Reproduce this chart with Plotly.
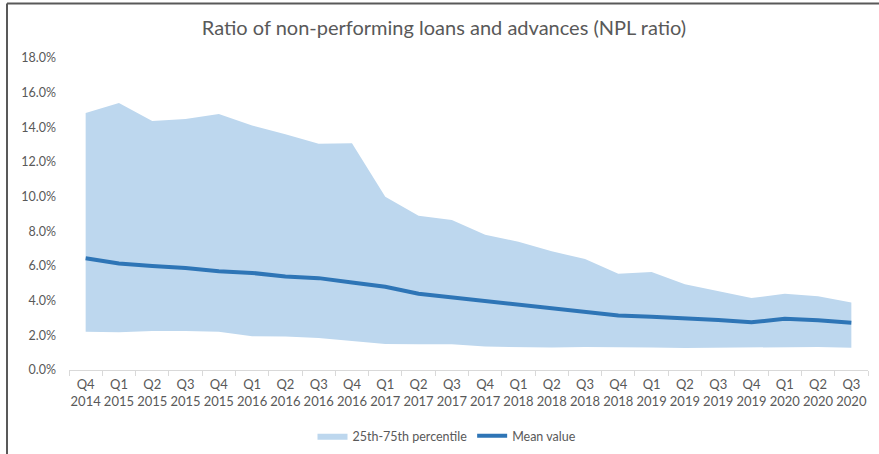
import plotly.graph_objects as go

quarters = ["Q4<br>2014", "Q1<br>2015", "Q2<br>2015", "Q3<br>2015", "Q4<br>2015",
            "Q1<br>2016", "Q2<br>2016", "Q3<br>2016", "Q4<br>2016",
            "Q1<br>2017", "Q2<br>2017", "Q3<br>2017", "Q4<br>2017",
            "Q1<br>2018", "Q2<br>2018", "Q3<br>2018", "Q4<br>2018",
            "Q1<br>2019", "Q2<br>2019", "Q3<br>2019", "Q4<br>2019",
            "Q1<br>2020", "Q2<br>2020", "Q3<br>2020"]

p75 = [14.83, 15.4, 14.37, 14.48, 14.77, 14.1, 13.6, 13.05, 13.08, 10.0, 8.9, 8.65,
       7.8, 7.4, 6.85, 6.4, 5.55, 5.65, 4.95, 4.55, 4.15, 4.4, 4.25, 3.9]
p25 = [2.2, 2.18, 2.25, 2.25, 2.2, 1.95, 1.93, 1.85, 1.68, 1.5, 1.48, 1.48,
       1.35, 1.32, 1.3, 1.32, 1.32, 1.3, 1.27, 1.28, 1.3, 1.33, 1.33, 1.28]
mean = [6.45, 6.15, 6.0, 5.88, 5.7, 5.6, 5.4, 5.3, 5.05, 4.8, 4.4, 4.2,
        4.0, 3.8, 3.55, 3.38, 3.15, 3.07, 3.0, 2.88, 2.75, 2.95, 2.87, 2.73]

W, H = 879, 454
L, R, T, B = 69, 11, 58, 84
pw, ph = W - L - R, H - T - B

def px(x):
    return (x - L) / pw

def py(y):
    return (H - B - y) / ph

fig = go.Figure()
fig.add_trace(go.Scatter(x=quarters, y=p25, mode="lines", line=dict(width=0, color="#BDD7EE"),
                         showlegend=False, hoverinfo="skip"))
fig.add_trace(go.Scatter(x=quarters, y=p75, mode="lines", line=dict(width=0, color="#BDD7EE"),
                         fill="tonexty", fillcolor="#BDD7EE", name="25th-75th percentile"))
fig.add_trace(go.Scatter(x=quarters, y=mean, mode="lines", line=dict(width=4, color="#2E75B6"),
                         name="Mean value"))

font = "Lato"
fig.update_layout(
    width=W, height=H,
    margin=dict(l=L, r=R, t=T, b=B, autoexpand=False),
    paper_bgcolor="white", plot_bgcolor="white",
    font=dict(family=font, color="#595959", size=12.5),
    title=dict(text="Ratio of non-performing loans and advances (NPL ratio)",
               x=px(444), xref="paper", xanchor="center",
               y=1 - 28 / H, yanchor="middle",
               font=dict(size=20, color="#595959", family=font)),
    legend=dict(orientation="h", x=px(447), xanchor="center", y=py(436), yanchor="middle",
                font=dict(size=12.5, color="#595959"), itemwidth=30, traceorder="normal"),
    xaxis=dict(type="category", range=[-0.5, 23.5], showgrid=False,
               showline=True, linecolor="#d9d9d9", linewidth=1,
               ticks="outside", tickson="boundaries", ticklen=5, tickcolor="#d9d9d9",
               tickangle=0, automargin=False, ticklabelstandoff=2,
               tickfont=dict(size=13, color="#595959"), fixedrange=True),
    yaxis=dict(range=[0, 18], dtick=2, tickformat=".1f", ticksuffix="%",
               showgrid=False, zeroline=False, showline=False,
               ticks="", ticklabelstandoff=12, automargin=False,
               tickfont=dict(size=12.5, color="#595959"), fixedrange=True),
    shapes=[
        dict(type="line", xref="paper", yref="paper", x0=px(7), x1=px(W + 5), y0=py(3.5), y1=py(3.5),
             line=dict(color="#595959", width=2)),
        dict(type="line", xref="paper", yref="paper", x0=px(7), x1=px(7), y0=py(3.5), y1=py(H + 5),
             line=dict(color="#595959", width=2)),
    ],
)

fig.write_html("out.html")
